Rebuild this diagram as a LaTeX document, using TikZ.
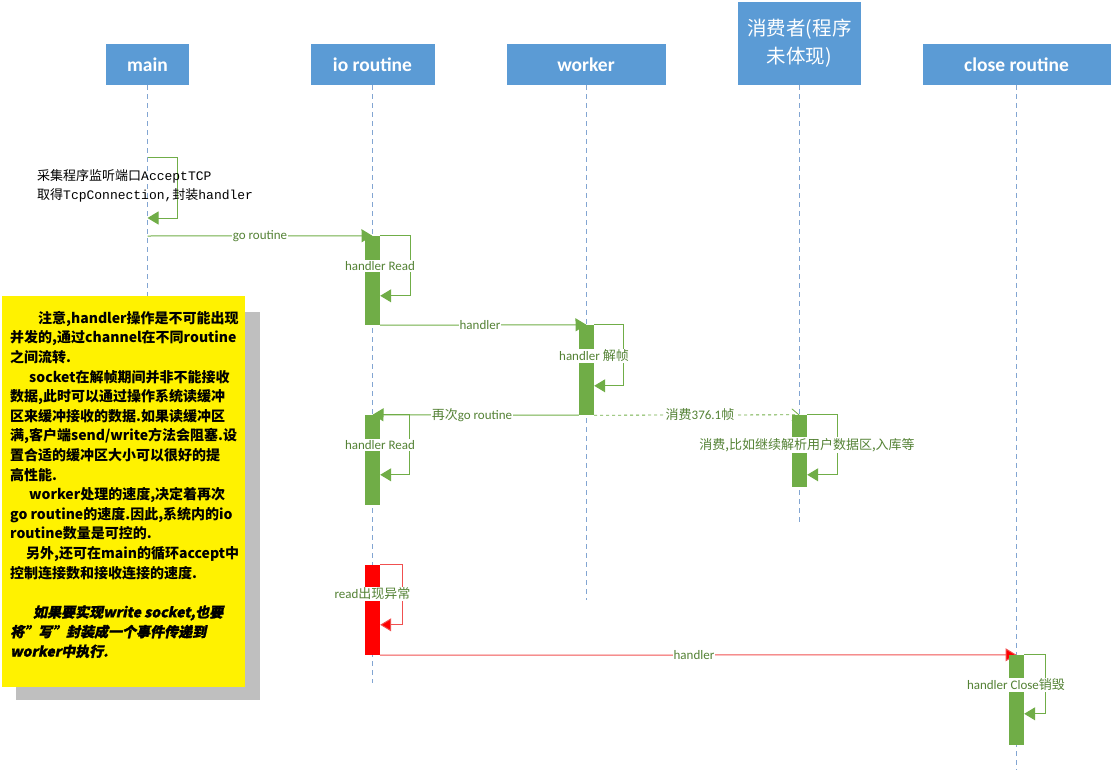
\documentclass[tikz,border=0pt]{standalone}
\usepackage{fontspec}
\setmainfont{Carlito}
\newfontfamily\cjk{Noto Sans CJK SC}
\newfontfamily\cjkit[FakeSlant=0.2,FakeBold=1.5]{Noto Sans CJK SC}
\newfontfamily\monofont{Liberation Mono}
\usetikzlibrary{arrows.meta}

\definecolor{boxblue}{RGB}{91,155,213}
\definecolor{lifeblue}{RGB}{130,165,210}
\definecolor{bargreen}{RGB}{112,173,71}
\definecolor{txtgreen}{RGB}{84,130,53}
\definecolor{linered}{RGB}{240,80,80}
\definecolor{shadowgray}{RGB}{191,191,191}

\tikzset{
  actor/.style={fill=boxblue, text=white, inner sep=0,
    font=\bfseries\fontsize{19.5}{24}\selectfont},
  bar/.style={fill=bargreen, minimum width=15, minimum height=90, inner sep=0},
  life/.style={lifeblue, dash pattern=on 5pt off 4pt, line width=0.8pt},
  msg/.style={bargreen, line width=1pt, -{Triangle[length=11pt,width=13pt]}},
  lbl/.style={fill=white, text=txtgreen, inner sep=1pt,
    font=\fontsize{13}{15}\selectfont}
}

\begin{document}
\begin{tikzpicture}[x=1pt, y=-1pt]
  \useasboundingbox (0,0) rectangle (1111,771);
  % lifeline heads
  \node[actor, minimum width=83, minimum height=41] (main) at (147.5,64.5) {main};
  \node[actor, minimum width=124, minimum height=41] (io) at (372.5,64.5) {io routine};
  \node[actor, minimum width=159, minimum height=41] (worker) at (586,64.5) {worker};
  \node[actor, minimum width=123, minimum height=83, align=center,
    font=\cjk\fontsize{19.5}{28}\selectfont] (consumer) at (799.5,43.5) {消费者(程序\\未体现)};
  \node[actor, minimum width=188, minimum height=41] (close) at (1016.5,64.5) {close routine};

  % lifelines
  \draw[life] (main.south) -- ++(0,215);
  \draw[life] (io.south) -- ++(0,598);
  \draw[life] (worker.south) -- ++(0,515);
  \draw[life] (consumer.south) -- ++(0,437);
  \draw[life] (close.south) -- ++(0,685);

  % accept on main
  \coordinate (acc) at (147.5,157);
  \draw[msg] (acc) -- ++(30,0) -- ++(0,61) -- ++(-30,0);
  \node[anchor=west, align=left, inner sep=0, font=\fontsize{13}{19}\selectfont] (acctxt) at (37,186)
    {{\cjk 采集程序监听端口}{\monofont AcceptTCP}\\
     {\cjk 取得}{\monofont TcpConnection,}{\cjk 封装}{\monofont handler}};

  % activations
  \coordinate (m1) at (147.5,236);
  \node[bar, minimum height=89] (rd1) at (372.5,280.5) {};
  \node[bar] (jz) at (586.5,370) {};
  \node[bar, minimum height=72] (xf) at (799.5,451) {};
  \node[bar] (rd2) at (372.5,460) {};
  \node[bar, fill=red] (err) at (372.5,610) {};
  \node[bar] (cl) at (1016.5,700) {};

  % messages
  \draw[msg] (m1) -- (rd1.north);
  \draw[msg] (rd1.south east) -- (jz.north);
  \draw[msg] (jz.south west) -- (rd2.north);
  \draw[bargreen, line width=0.8pt, dashed, -{Straight Barb[length=7pt,width=12pt]}]
    (jz.south east) -- (xf.north);
  \draw[msg, linered, -{Triangle[length=11pt,width=13pt,fill=red]}]
    (err.south east) -- (cl.north);

  % self calls
  \draw[msg] (rd1.north east) -- ++(30,0) -- ++(0,60) -- ++(-30,0);
  \draw[msg] (jz.north east) -- ++(29,0) -- ++(0,61) -- ++(-29,0);
  \draw[msg] (xf.north east) -- ++(30,0) -- ++(0,60) -- ++(-30,0);
  \draw[msg] (rd2.north east) -- ++(29,0) -- ++(0,60) -- ++(-29,0);
  \draw[msg, linered, -{Triangle[length=11pt,width=13pt,fill=red]}]
    (err.north east) -- ++(22,0) -- ++(0,60) -- ++(-22,0);
  \draw[msg] (cl.north east) -- ++(21,0) -- ++(0,59) -- ++(-21,0);

  % bars again on top of the arrow tips
  \foreach \b in {rd1,jz,xf,rd2,cl}
    \fill[bargreen] (\b.north west) rectangle (\b.south east);
  \fill[red] (err.north west) rectangle (err.south east);

  % labels
  \node[lbl] (l1) at (260,236) {go routine};
  \node[lbl] (l2) at (480,325) {handler};
  \node[lbl] (l3) at (472,415) {{\cjk 再次}go routine};
  \node[lbl] (l4) at (700,415) {{\cjk 消费}376.1{\cjk 帧}};
  \node[lbl] (l5) at (694,655) {handler};
  \node[lbl] (t1) at (380,266) {handler Read};
  \node[lbl] (t2) at (594,356) {handler {\cjk 解帧}};
  \node[lbl] (t3) at (807,445) {\cjk 消费,比如继续解析用户数据区,入库等};
  \node[lbl] (t4) at (380,445) {handler Read};
  \node[lbl] (t5) at (372.5,594) {read{\cjk 出现异常}};
  \node[lbl] (t6) at (1016,685) {handler Close{\cjk 销毁}};

  % note
  \fill[shadowgray] (16,312) rectangle (260,700);
  \fill[yellow] (2,296) rectangle (245,687);
  \node[anchor=north west, align=left, inner sep=0,
    font=\cjk\bfseries\fontsize{14}{19.6}\selectfont] (note) at (10,311) {%
    \hspace*{28pt}注意,handler操作是不可能出现\\
    并发的,通过channel在不同routine\\
    之间流转.\\
    \hspace*{19pt}socket在解帧期间并非不能接收\\
    数据,此时可以通过操作系统读缓冲\\
    区来缓冲接收的数据.如果读缓冲区\\
    满,客户端send/write方法会阻塞.设\\
    置合适的缓冲区大小可以很好的提\\
    高性能.\\
    \hspace*{19pt}worker处理的速度,决定着再次\\
    go routine的速度.因此,系统内的io\\
    routine数量是可控的.\\
    \hspace*{16pt}另外,还可在main的循环accept中\\
    控制连接数和接收连接的速度.\\[19.6pt]
    \hspace*{23pt}{\cjkit 如果要实现write socket,也要}\\
    {\cjkit 将”写”封装成一个事件传递到}\\
    {\cjkit worker中执行.}};
\end{tikzpicture}
\end{document}
